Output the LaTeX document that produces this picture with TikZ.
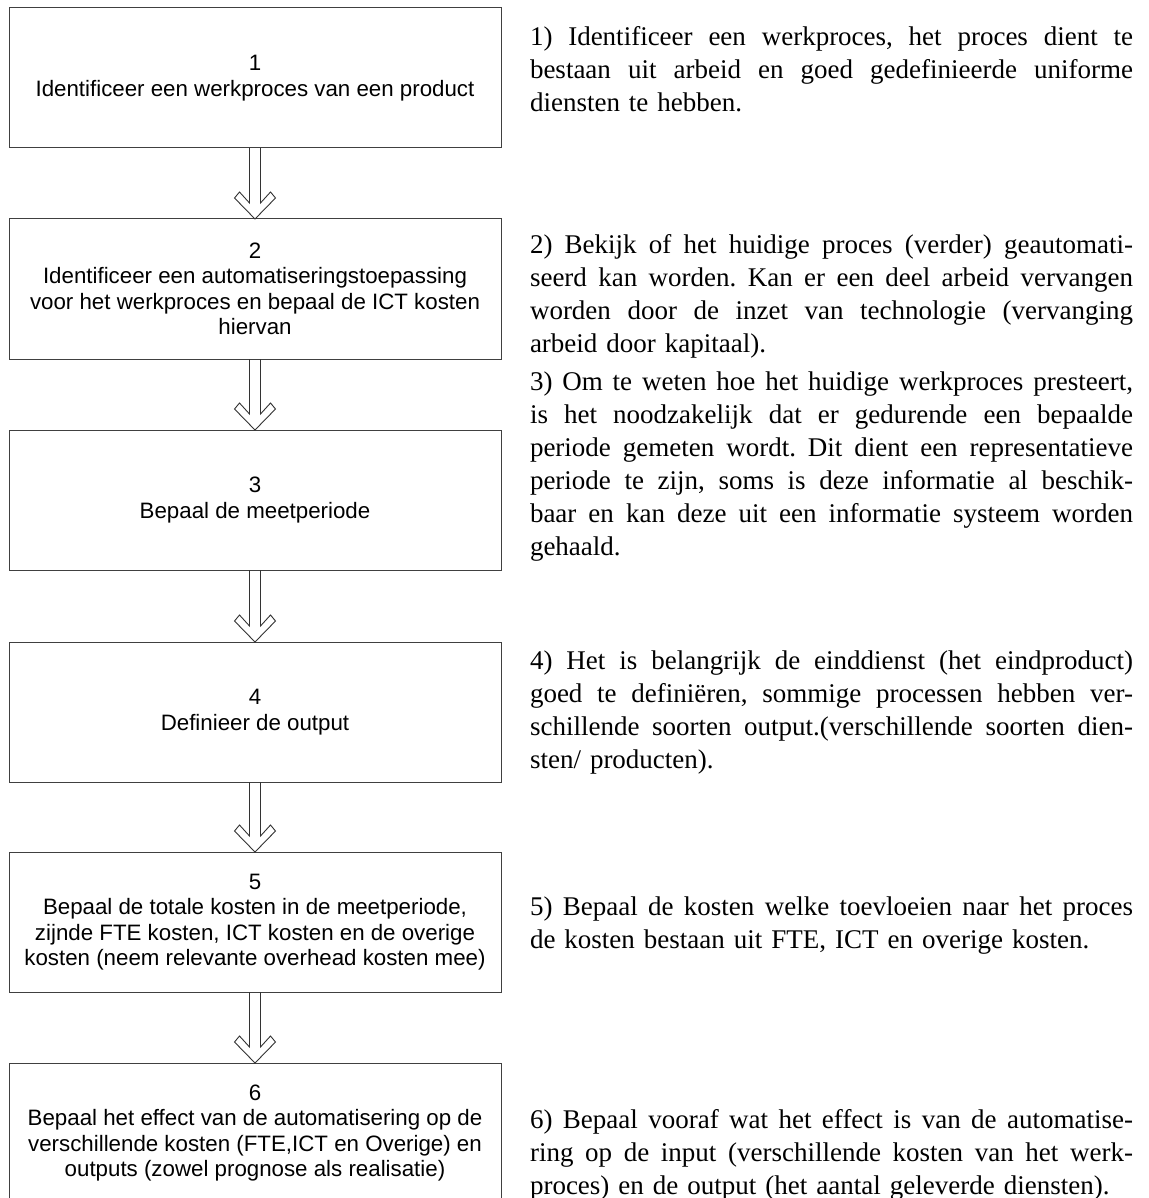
\documentclass[tikz,border=0pt]{standalone}
\usepackage{fontspec}
\setmainfont{Liberation Serif}
\newfontfamily\boxfont{Liberation Sans}
\usetikzlibrary{calc}
\setlength\parindent{0pt}
\frenchspacing
\newlength\colw
\setlength\colw{603pt}
% one justified line of the explanation column
\newcommand\jl[1]{\leavevmode\hbox to \colw{\spaceskip=0.25em plus 1fil\relax
  \xspaceskip=\spaceskip #1}}
% hollow block arrow from the bottom of one step to the top of the next
\newcommand\blockarrow[2]{%
  \draw[hollow] ($(#1.south)+(-5.5,0)$) -- ($(#2.north)+(-5.5,-16)$)
    -- ($(#2.north)+(-15.5,-27)$) -- ($(#2.north)+(-20.5,-21)$)
    -- (#2.north)
    -- ($(#2.north)+(20.5,-21)$) -- ($(#2.north)+(15.5,-27)$)
    -- ($(#2.north)+(5.5,-16)$) -- ($(#1.south)+(5.5,0)$);}

\begin{document}
\begin{tikzpicture}[x=1pt,y=-1pt,
  stepbox/.style={draw=black!75, line width=1pt, minimum width=492pt,
    minimum height=140pt, inner sep=0pt, outer sep=0pt, align=center,
    font=\boxfont\fontsize{22.3}{25.5}\selectfont},
  para/.style={anchor=north west, inner sep=0pt, outer sep=0pt,
    text width=\colw, align=left, font=\fontsize{27}{33}\selectfont},
  hollow/.style={draw=black!80, line width=0.9pt, line join=miter}]
\useasboundingbox (0,0) rectangle (1148,1198);
\fill[white] (0,0) rectangle (1148,1198);

% process steps
\node[stepbox] (b1) at (255,78)  {1\\Identificeer een werkproces van een product};
\node[stepbox] (b2) at (255,289) {2\\Identificeer een automatiseringstoepassing\\voor het werkproces en bepaal de ICT kosten\\hiervan};
\node[stepbox] (b3) at (255,500) {3\\Bepaal de meetperiode};
\node[stepbox] (b4) at (255,712) {4\\Definieer de output};
\node[stepbox] (b5) at (255,922) {5\\Bepaal de totale kosten in de meetperiode,\\zijnde FTE kosten, ICT kosten en de overige\\kosten (neem relevante overhead kosten mee)};
\node[stepbox] (b6) at (255,1133) {6\\Bepaal het effect van de automatisering op de\\verschillende kosten (FTE,ICT en Overige) en\\outputs (zowel prognose als realisatie)};

% connectors
\blockarrow{b1}{b2}
\blockarrow{b2}{b3}
\blockarrow{b3}{b4}
\blockarrow{b4}{b5}
\blockarrow{b5}{b6}

% explanations
\node[para] (p1) at (530,22) {\strut\jl{1) Identificeer een werkproces, het proces dient te}\\
\jl{bestaan uit arbeid en goed gedefinieerde uniforme}\\
diensten te hebben.};
\node[para] (p2) at (530,230) {\strut\jl{2) Bekijk of het huidige proces (verder) geautomati-}\\
\jl{seerd kan worden. Kan er een deel arbeid vervangen}\\
\jl{worden door de inzet van technologie (vervanging}\\
arbeid door kapitaal).};
\node[para] (p3) at (530,367) {\strut\jl{3) Om te weten hoe het huidige werkproces presteert,}\\
\jl{is het noodzakelijk dat er gedurende een bepaalde}\\
\jl{periode gemeten wordt. Dit dient een representatieve}\\
\jl{periode te zijn, soms is deze informatie al beschik-}\\
\jl{baar en kan deze uit een informatie systeem worden}\\
gehaald.};
\node[para] (p4) at (530,646) {\strut\jl{4) Het is belangrijk de einddienst (het eindproduct)}\\
\jl{goed te definiëren, sommige processen hebben ver-}\\
\jl{schillende soorten output.(verschillende soorten dien-}\\
sten/ producten).};
\node[para] (p5) at (530,892) {\strut\jl{5) Bepaal de kosten welke toevloeien naar het proces}\\
de kosten bestaan uit FTE, ICT en overige kosten.};
\node[para] (p6) at (530,1105) {\strut\jl{6) Bepaal vooraf wat het effect is van de automatise-}\\
\jl{ring op de input (verschillende kosten van het werk-}\\
proces) en de output (het aantal geleverde diensten).};
\end{tikzpicture}
\end{document}
